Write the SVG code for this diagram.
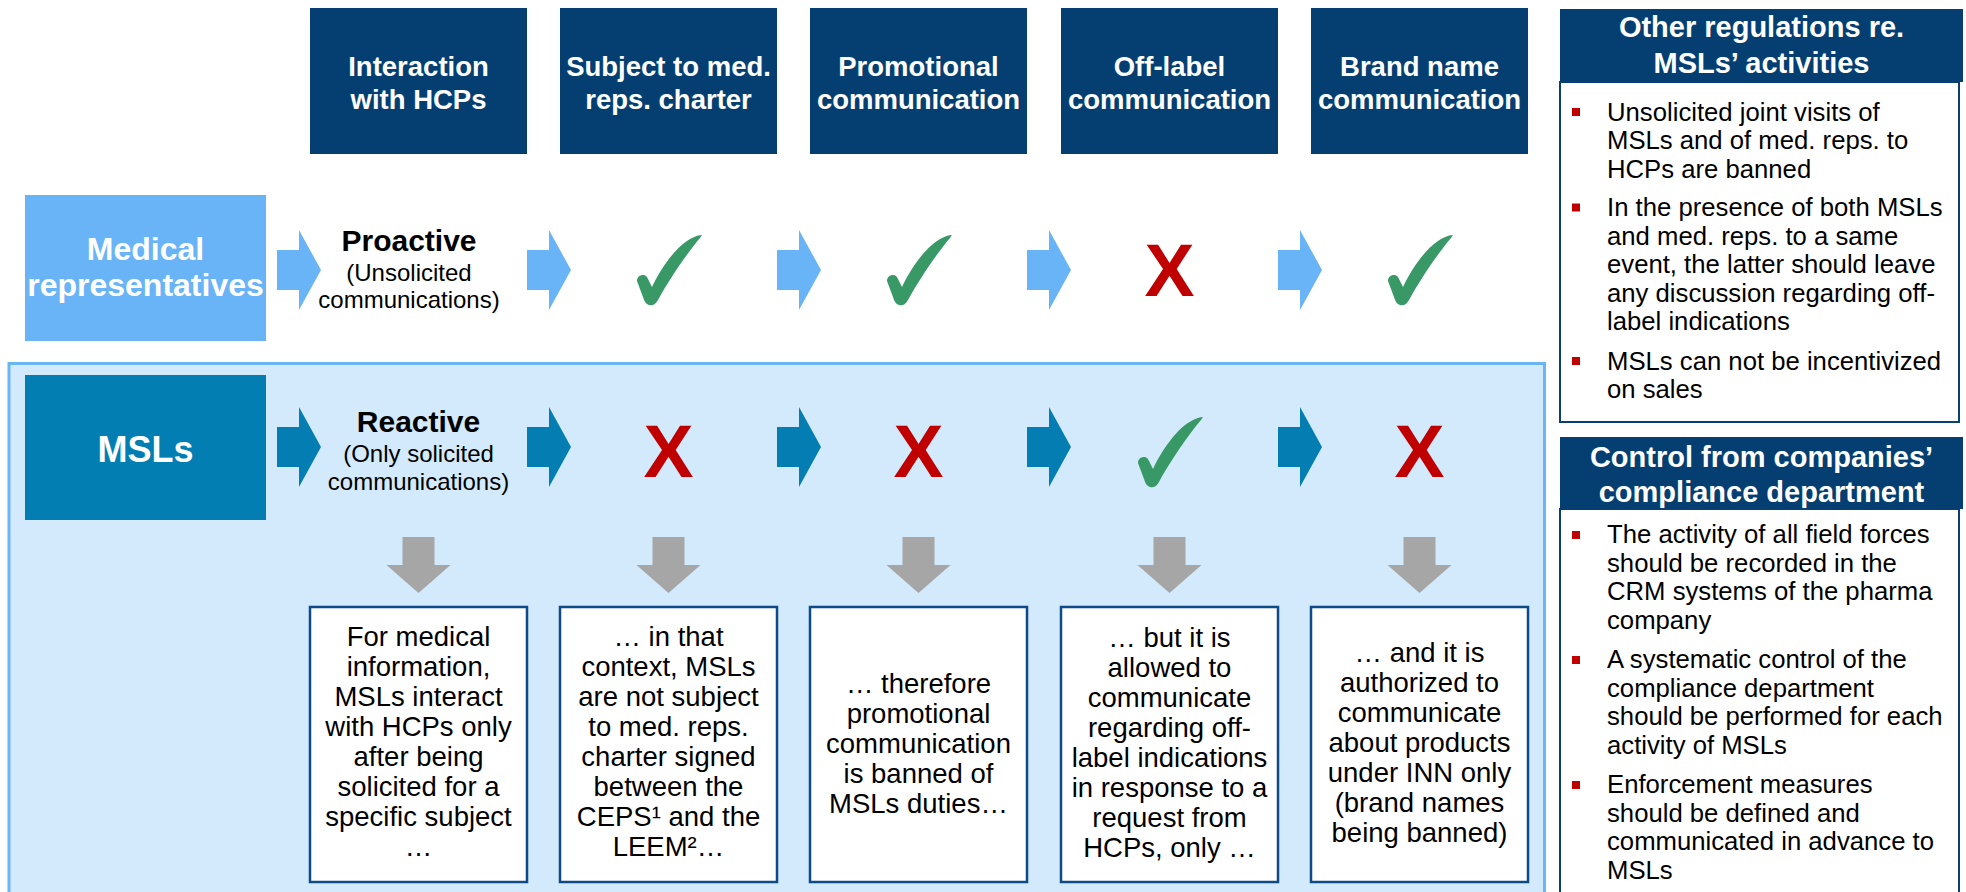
<svg xmlns="http://www.w3.org/2000/svg" xmlns:xlink="http://www.w3.org/1999/xlink" width="1966" height="892" viewBox="0 0 1966 892">
<style>
.hdr{fill:#053F72}
.hdrt{font-family:"Liberation Sans",Arial,sans-serif;font-weight:bold;font-size:27.5px;fill:#fff;text-anchor:middle}
.side{font-family:"Liberation Sans",Arial,sans-serif;font-weight:bold;fill:#fff;text-anchor:middle}
.lbl{font-family:"Liberation Sans",Arial,sans-serif;fill:#000;text-anchor:middle}
.box{fill:#fff;stroke:#0D4A86;stroke-width:2.5}
.boxt{font-family:"Liberation Sans",Arial,sans-serif;font-size:27.5px;fill:#000;text-anchor:middle}
.x{font-family:"Liberation Sans",Arial,sans-serif;font-weight:bold;font-size:75px;fill:#C00000;text-anchor:middle}
.chk{fill:#389966}
.a1{fill:#69B4F6}
.a2{fill:#047EB2}
.ad{fill:#A6A6A6}
.rh{fill:#053F72}
.rht{font-family:"Liberation Sans",Arial,sans-serif;font-weight:bold;font-size:29px;fill:#fff;text-anchor:middle}
.rb{fill:#fff;stroke:#0A3F74;stroke-width:2}
.bt{font-family:"Liberation Sans",Arial,sans-serif;font-size:25.7px;fill:#000}
.bul{fill:#C00000}
</style>
<defs>
<path id="ra" d="M0,-20 H22 V-40 L44,0 L22,40 V20 H0 Z"/>
<path id="da" d="M-16,0 H16 V28 H32 L0,56 L-32,28 H-16 Z"/>
<path id="ck" d="M1,47 C1,43 4,41 7,41 C10,41 11,43 12,45 L16,53 C25,34 40,12 56,4 C60,2 63,1 66,1 L64,4 C52,18 34,44 22,66 C19,71 16,72 13,71 C10,70 8,67 7,63 Z"/>
</defs>
<rect width="1966" height="892" fill="#fff"/>

<g id="msl-panel">
<rect x="9" y="363.5" width="1535.5" height="540" fill="#D3E9FC" stroke="#6AB5F3" stroke-width="3"/>
</g>

<g id="header-interaction"><rect class="hdr" x="310" y="8" width="217" height="146"/><text class="hdrt" x="418.5" y="76">Interaction</text><text class="hdrt" x="418.5" y="109">with HCPs</text></g>
<g id="header-charter"><rect class="hdr" x="560" y="8" width="217" height="146"/><text class="hdrt" x="668.5" y="76">Subject to med.</text><text class="hdrt" x="668.5" y="109">reps. charter</text></g>
<g id="header-promotional"><rect class="hdr" x="810" y="8" width="217" height="146"/><text class="hdrt" x="918.5" y="76">Promotional</text><text class="hdrt" x="918.5" y="109">communication</text></g>
<g id="header-offlabel"><rect class="hdr" x="1061" y="8" width="217" height="146"/><text class="hdrt" x="1169.5" y="76">Off-label</text><text class="hdrt" x="1169.5" y="109">communication</text></g>
<g id="header-brand"><rect class="hdr" x="1311" y="8" width="217" height="146"/><text class="hdrt" x="1419.5" y="76">Brand name</text><text class="hdrt" x="1419.5" y="109">communication</text></g>

<g id="medical-reps"><rect x="25" y="195" width="241" height="146" fill="#69B4F6"/><text class="side" font-size="32" x="145.5" y="260">Medical</text><text class="side" font-size="32" x="145.5" y="296">representatives</text></g>
<g id="msls"><rect x="25" y="375" width="241" height="145" fill="#037EB3"/><text class="side" font-size="36" x="145.5" y="462">MSLs</text></g>

<g id="proactive"><text class="lbl" font-weight="bold" font-size="30" x="409" y="251">Proactive</text><text class="lbl" font-size="24" x="409" y="281">(Unsolicited</text><text class="lbl" font-size="24" x="409" y="308">communications)</text></g>
<g id="reactive"><text class="lbl" font-weight="bold" font-size="30" x="418.5" y="432">Reactive</text><text class="lbl" font-size="24" x="418.5" y="462">(Only solicited</text><text class="lbl" font-size="24" x="418.5" y="490">communications)</text></g>

<g id="row1-marks">
<use href="#ck" class="chk" x="636" y="234"/>
<use href="#ck" class="chk" x="886" y="234"/>
<text class="x" x="1169.5" y="296">X</text>
<use href="#ck" class="chk" x="1387" y="234"/>
</g>
<g id="row2-marks">
<text class="x" x="668.5" y="477">X</text>
<text class="x" x="918.5" y="477">X</text>
<use href="#ck" class="chk" x="1137" y="416"/>
<text class="x" x="1419.5" y="477">X</text>
</g>

<g id="connectors">
<use href="#ra" class="a1" x="277" y="270"/>
<use href="#ra" class="a1" x="527" y="270"/>
<use href="#ra" class="a1" x="777" y="270"/>
<use href="#ra" class="a1" x="1027" y="270"/>
<use href="#ra" class="a1" x="1278" y="270"/>
<use href="#ra" class="a2" x="277" y="447"/>
<use href="#ra" class="a2" x="527" y="447"/>
<use href="#ra" class="a2" x="777" y="447"/>
<use href="#ra" class="a2" x="1027" y="447"/>
<use href="#ra" class="a2" x="1278" y="447"/>
<use href="#da" class="ad" x="418.5" y="537"/>
<use href="#da" class="ad" x="668.5" y="537"/>
<use href="#da" class="ad" x="918.5" y="537"/>
<use href="#da" class="ad" x="1169.5" y="537"/>
<use href="#da" class="ad" x="1419.5" y="537"/>
</g>

<g id="box-interaction"><rect class="box" x="310" y="607" width="217" height="275"/>
<text class="boxt" x="418.5" y="646">For medical</text><text class="boxt" x="418.5" y="676">information,</text><text class="boxt" x="418.5" y="706">MSLs interact</text><text class="boxt" x="418.5" y="736">with HCPs only</text><text class="boxt" x="418.5" y="766">after being</text><text class="boxt" x="418.5" y="796">solicited for a</text><text class="boxt" x="418.5" y="826">specific subject</text><text class="boxt" x="418.5" y="856">…</text></g>
<g id="box-charter"><rect class="box" x="560" y="607" width="217" height="275"/>
<text class="boxt" x="668.5" y="646">… in that</text><text class="boxt" x="668.5" y="676">context, MSLs</text><text class="boxt" x="668.5" y="706">are not subject</text><text class="boxt" x="668.5" y="736">to med. reps.</text><text class="boxt" x="668.5" y="766">charter signed</text><text class="boxt" x="668.5" y="796">between the</text><text class="boxt" x="668.5" y="826">CEPS¹ and the</text><text class="boxt" x="668.5" y="856">LEEM²…</text></g>
<g id="box-promotional"><rect class="box" x="810" y="607" width="217" height="275"/>
<text class="boxt" x="918.5" y="693">… therefore</text><text class="boxt" x="918.5" y="723">promotional</text><text class="boxt" x="918.5" y="753">communication</text><text class="boxt" x="918.5" y="783">is banned of</text><text class="boxt" x="918.5" y="813">MSLs duties…</text></g>
<g id="box-offlabel"><rect class="box" x="1061" y="607" width="217" height="275"/>
<text class="boxt" x="1169.5" y="647">… but it is</text><text class="boxt" x="1169.5" y="677">allowed to</text><text class="boxt" x="1169.5" y="707">communicate</text><text class="boxt" x="1169.5" y="737">regarding off-</text><text class="boxt" x="1169.5" y="767">label indications</text><text class="boxt" x="1169.5" y="797">in response to a</text><text class="boxt" x="1169.5" y="827">request from</text><text class="boxt" x="1169.5" y="857">HCPs, only …</text></g>
<g id="box-brand"><rect class="box" x="1311" y="607" width="217" height="275"/>
<text class="boxt" x="1419.5" y="662">… and it is</text><text class="boxt" x="1419.5" y="692">authorized to</text><text class="boxt" x="1419.5" y="722">communicate</text><text class="boxt" x="1419.5" y="752">about products</text><text class="boxt" x="1419.5" y="782">under INN only</text><text class="boxt" x="1419.5" y="812">(brand names</text><text class="boxt" x="1419.5" y="842">being banned)</text></g>

<g id="other-regulations">
<rect class="rb" x="1560" y="82" width="399" height="340"/>
<rect class="rh" x="1560" y="9" width="403" height="73"/>
<text class="rht" x="1761.5" y="37">Other regulations re.</text>
<text class="rht" x="1761.5" y="73">MSLs’ activities</text>
<rect class="bul" x="1572" y="108" width="8" height="8"/>
<text class="bt" x="1607" y="120.5">Unsolicited joint visits of</text>
<text class="bt" x="1607" y="149">MSLs and of med. reps. to</text>
<text class="bt" x="1607" y="177.5">HCPs are banned</text>
<rect class="bul" x="1572" y="203.5" width="8" height="8"/>
<text class="bt" x="1607" y="216">In the presence of both MSLs</text>
<text class="bt" x="1607" y="244.5">and med. reps. to a same</text>
<text class="bt" x="1607" y="273">event, the latter should leave</text>
<text class="bt" x="1607" y="301.5">any discussion regarding off-</text>
<text class="bt" x="1607" y="330">label indications</text>
<rect class="bul" x="1572" y="357" width="8" height="8"/>
<text class="bt" x="1607" y="369.5">MSLs can not be incentivized</text>
<text class="bt" x="1607" y="398">on sales</text>
</g>

<g id="compliance-control">
<rect class="rb" x="1560" y="509" width="399" height="400"/>
<rect class="rh" x="1560" y="437" width="403" height="72"/>
<text class="rht" x="1761.5" y="467">Control from companies’</text>
<text class="rht" x="1761.5" y="502">compliance department</text>
<rect class="bul" x="1572" y="531" width="8" height="8"/>
<text class="bt" x="1607" y="543">The activity of all field forces</text>
<text class="bt" x="1607" y="571.5">should be recorded in the</text>
<text class="bt" x="1607" y="600">CRM systems of the pharma</text>
<text class="bt" x="1607" y="628.5">company</text>
<rect class="bul" x="1572" y="656" width="8" height="8"/>
<text class="bt" x="1607" y="668">A systematic control of the</text>
<text class="bt" x="1607" y="696.5">compliance department</text>
<text class="bt" x="1607" y="725">should be performed for each</text>
<text class="bt" x="1607" y="753.5">activity of MSLs</text>
<rect class="bul" x="1572" y="781" width="8" height="8"/>
<text class="bt" x="1607" y="793">Enforcement measures</text>
<text class="bt" x="1607" y="821.5">should be defined and</text>
<text class="bt" x="1607" y="850">communicated in advance to</text>
<text class="bt" x="1607" y="878.5">MSLs</text>
</g>
</svg>
